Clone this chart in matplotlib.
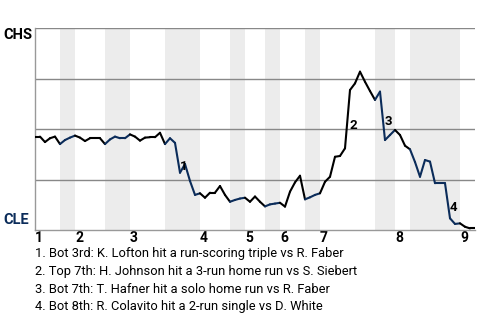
import numpy as np
import matplotlib
matplotlib.use("Agg")
import matplotlib.pyplot as plt
from matplotlib.collections import LineCollection

plt.rcParams['font.family'] = ['Roboto', 'DejaVu Sans']

# CHS win probability (%) after each plate appearance
win_prob = [46.3, 46.3, 43.6, 45.5, 46.3, 42.6, 44.6, 45.8, 46.8, 45.8,
            44.1, 45.5, 45.5, 45.5, 42.6, 44.9, 46.3, 45.5, 45.5, 47.4,
            46.3, 44.3, 45.8, 46.0, 46.0, 48.2, 42.6, 45.5, 43.2, 28.4,
            32.7, 24.3, 17.4, 18.2, 16.0, 18.5, 18.5, 21.8, 17.4, 14.0,
            14.9, 15.6, 16.0, 14.0, 16.6, 14.0, 11.7, 12.7, 13.1, 13.5,
            11.6, 19.0, 23.6, 26.9, 15.2, 16.2, 17.4, 18.2, 23.9, 26.4,
            36.3, 36.7, 40.5, 69.4, 72.7, 78.5, 73.5, 68.9, 64.5, 68.6,
            44.6, 47.1, 49.6, 47.1, 41.8, 40.0, 33.7, 26.4, 34.7, 33.9,
            23.2, 23.2, 23.2, 5.8, 3.0, 3.3, 1.6, 0.8, 0.8]

# plate appearance index where each inning starts
inning_starts = [0, 8, 19, 33, 42, 49, 57, 72, 85]
inning_labels = ['1', '2', '3', '4', '5', '6', '7', '8', '9']
# bottom halves (CLE batting): start, end
bottom_halves = [(5, 8), (14, 19), (26, 33), (39, 42), (46, 49),
                 (54, 57), (68, 72), (75, 85)]

# key events: label, x, y
event_marks = ['1', '2', '3', '4']
event_x = [29.8, 63.7, 70.7, 83.7]
event_y = [31.7, 51.7, 54.0, 11.1]
event_text = [
    "1. Bot 3rd: K. Lofton hit a run-scoring triple vs R. Faber",
    "2. Top 7th: H. Johnson hit a 3-run home run vs S. Siebert",
    "3. Bot 7th: T. Hafner hit a solo home run vs R. Faber",
    "4. Bot 8th: R. Colavito hit a 2-run single vs D. White",
]

NAVY = '#0b2c5a'

fig = plt.figure(figsize=(4.8, 3.2), dpi=100)
ax = fig.add_axes([35 / 480, 1 - 230 / 320, 440 / 480, 201.7 / 320])

x = np.arange(len(win_prob))
ax.set_xlim(0, len(win_prob) - 1)
ax.set_ylim(0, 100)

for b0, b1 in bottom_halves:
    ax.axvspan(b0, b1, color='#ececec', lw=0, zorder=0)

for g in [25, 50, 75, 100]:
    ax.axhline(g, color='#888888', lw=1, zorder=1)

# color each segment by which team was batting
segs = []
colors = []
for i in range(len(win_prob) - 1):
    segs.append([(x[i], win_prob[i]), (x[i + 1], win_prob[i + 1])])
    navy = any(b0 <= i < b1 for b0, b1 in bottom_halves)
    colors.append(NAVY if navy else 'black')
lc = LineCollection(segs, colors=colors, linewidths=1.5, zorder=3,
                    capstyle='round', joinstyle='round')
ax.add_collection(lc)

for m, ex, ey in zip(event_marks, event_x, event_y):
    ax.text(ex, ey, m, fontsize=9.5, fontweight='bold', ha='center',
            va='center', zorder=4)

for s in ['top', 'right']:
    ax.spines[s].set_visible(False)
for s in ['left', 'bottom']:
    ax.spines[s].set_color('#999999')
    ax.spines[s].set_linewidth(1)

ax.set_yticks([])
ax.set_xticks(inning_starts)
ax.set_xticklabels(inning_labels, fontsize=10, fontweight='bold', ha='left')
ax.tick_params(axis='x', length=0, pad=1)

fig.text(3 / 480, 1 - 35 / 320, 'CHS', fontsize=10.5, fontweight='bold',
         va='center', ha='left')
fig.text(3 / 480, 1 - 220 / 320, 'CLE', fontsize=10.5, fontweight='bold',
         va='center', ha='left', color=NAVY)

for k, t in enumerate(event_text):
    fig.text(35 / 480, 1 - (253.5 + 17.8 * k) / 320, t, fontsize=9.3,
             va='center', ha='left')

fig.savefig('out.png', dpi=100)
